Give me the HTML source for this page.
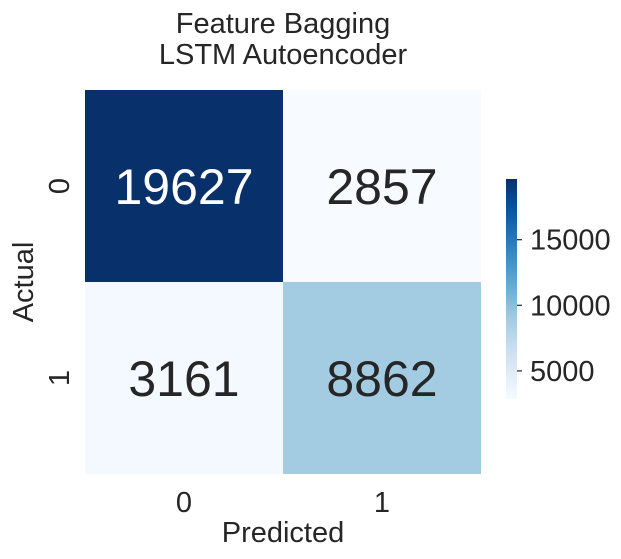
<!DOCTYPE html>
<html><head><meta charset="utf-8"><style>
body{margin:0;background:#fff;}
svg{display:block;font-family:"Liberation Sans",Arial,sans-serif;fill:#262626;}
</style></head><body>
<svg id="chart" width="621" height="559">
<defs><linearGradient id="cbg" x1="0" y1="1" x2="0" y2="0"></linearGradient></defs>
<text x="283" y="33" font-size="29" text-anchor="middle">Feature Bagging</text>
<text x="283" y="64" font-size="29" text-anchor="middle">LSTM Autoencoder</text>
<g id="cells"></g>
<g id="xt"></g>
<g id="yt"></g>
<text x="283" y="542" font-size="29" text-anchor="middle">Predicted</text>
<text transform="translate(33,282) rotate(-90)" font-size="29" text-anchor="middle">Actual</text>
<rect x="506" y="179" width="11" height="220" fill="url(#cbg)"></rect>
<g id="cb"></g>
</svg>
<script>
const rowLabels=["0","1"];
const colLabels=["0","1"];
const row0=[19627,2857];
const row1=[3161,8862];
const cbTicks=[5000,10000,15000];
const values=[row0,row1];
const NS="http://www.w3.org/2000/svg";
const X0=85,X1=481,Y0=90,Y1=474;
const cw=(X1-X0)/colLabels.length,ch=(Y1-Y0)/rowLabels.length;
const all=values.flat();const vmin=Math.min(...all),vmax=Math.max(...all);
const blues=[[247,251,255],[222,235,247],[198,219,239],[158,202,225],[107,174,214],[66,146,198],[33,113,181],[8,81,156],[8,48,107]];
function col(v){let t=(v-vmin)/(vmax-vmin);t=Math.max(0,Math.min(1,t))*(blues.length-1);const i=Math.min(Math.floor(t),blues.length-2),f=t-i;const a=blues[i],b=blues[i+1];return "rgb("+a.map((c,k)=>Math.round(c+(b[k]-c)*f)).join(",")+")";}
function el(tag,attrs,parent){const e=document.createElementNS(NS,tag);for(const k in attrs)e.setAttribute(k,attrs[k]);parent.appendChild(e);return e;}
const cells=document.getElementById("cells");
values.forEach((row,r)=>row.forEach((v,c)=>{
 const rc=el("rect",{x:X0+c*cw,y:Y0+r*ch,width:cw,height:ch,fill:col(v)},cells);
 
 
 const t=el("text",{x:X0+c*cw+cw/2,y:Y0+r*ch+ch/2+18,"font-size":50,"text-anchor":"middle",fill:(v-vmin)/(vmax-vmin)>0.6?"#ffffff":"#262626"},cells);
 t.textContent=v;
 
 
}));
const xt=document.getElementById("xt");
colLabels.forEach((l,i)=>{const t=el("text",{x:X0+i*cw+cw/2,y:512,"font-size":29,"text-anchor":"middle"},xt);t.textContent=l;
 
 });
const yt=document.getElementById("yt");
rowLabels.forEach((l,i)=>{const y=Y0+i*ch+ch/2;const t=el("text",{transform:"translate(69,"+y+") rotate(-90)","font-size":29,"text-anchor":"middle"},yt);t.textContent=l;
 
 });
const g=document.getElementById("cbg");
blues.forEach((b,i)=>{const s=el("stop",{offset:(i/(blues.length-1)),"stop-color":"rgb("+b.join(",")+")"},g);
 
 });
const cb=document.getElementById("cb");
const CB0=179,CB1=399;
cbTicks.forEach(v=>{const y=CB1-(v-vmin)/(vmax-vmin)*(CB1-CB0);
 const ln=el("line",{x1:517,x2:522,y1:y,y2:y,stroke:"#262626","stroke-width":1.2},cb);
 
 
 const t=el("text",{x:530,y:y+10,"font-size":29},cb);t.textContent=v;
 
 });
</script>
</body></html>
